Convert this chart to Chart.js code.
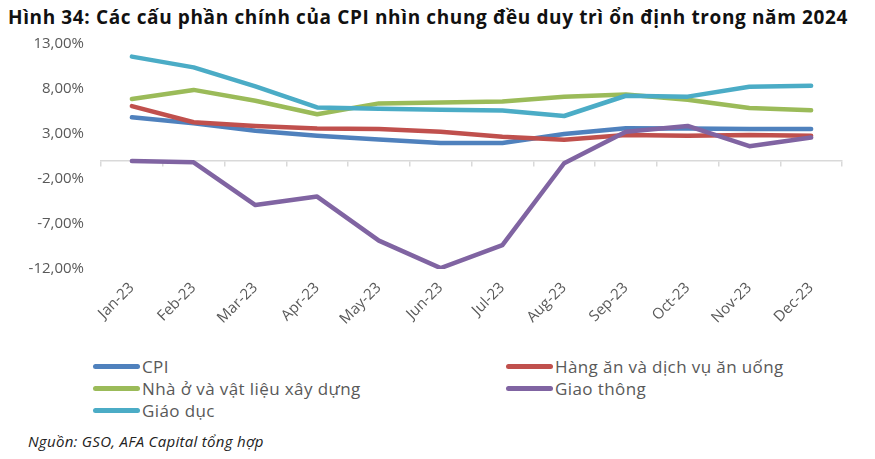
<!DOCTYPE html>
<html lang="vi">
<head>
    <meta charset="UTF-8">
    <title>CPI 2023</title>
    <script src="https://cdn.jsdelivr.net/npm/chart.js"></script>
    <style>
        * { margin: 0; padding: 0; box-sizing: border-box; }
        body { width: 875px; height: 459px; background: #fff; position: relative; overflow: hidden; font-family: 'Open Sans', sans-serif; }
        .title { position: absolute; left: 8px; top: 4px; font-family: 'Open Sans', sans-serif; font-weight: 700; font-size: 19px; color: #111; white-space: nowrap; }
        #chart { position: absolute; left: 0; top: 0; }
        .legend { position: absolute; left: 93px; top: 355px; display: grid; grid-template-columns: 413px 300px; }
        .legend div { height: 22px; display: flex; align-items: center; font-size: 17px; letter-spacing: 0.4px; color: #595959; white-space: nowrap; }
        .legend span { display: inline-block; width: 47px; height: 5px; border-radius: 3px; margin-right: 2px; }
        .source { position: absolute; left: 28px; top: 431px; font-style: italic; font-size: 15px; letter-spacing: 0.3px; color: #222; }
    </style>
</head>
<body>
    <div class="title" id="title">Hình 34: Các cấu phần chính của CPI nhìn chung đều duy trì ổn định trong năm 2024</div>
    <canvas id="chart" width="875" height="340"></canvas>
    <div class="legend" id="legend"></div>
    <div class="source">Nguồn: GSO, AFA Capital tổng hợp</div>

    <script>
        // dữ liệu
        const labels = ['Jan-23', 'Feb-23', 'Mar-23', 'Apr-23', 'May-23', 'Jun-23', 'Jul-23', 'Aug-23', 'Sep-23', 'Oct-23', 'Nov-23', 'Dec-23'];
        const cpi = [4.85, 4.2, 3.35, 2.8, 2.4, 2.0, 2.0, 3.0, 3.65, 3.6, 3.55, 3.55];
        const hangAn = [6.1, 4.3, 3.9, 3.6, 3.55, 3.25, 2.7, 2.35, 2.9, 2.8, 2.9, 2.8];
        const nhaO = [6.9, 7.9, 6.7, 5.2, 6.4, 6.5, 6.6, 7.15, 7.4, 6.8, 5.9, 5.65];
        const giaoThong = [0.0, -0.15, -4.9, -3.95, -8.85, -11.9, -9.35, -0.25, 3.25, 3.9, 1.65, 2.6];
        const giaoDuc = [11.6, 10.4, 8.3, 5.95, 5.8, 5.7, 5.6, 5.0, 7.25, 7.15, 8.25, 8.35];
        const yTicks = [-12, -7, -2, 3, 8, 13];

        const series = [
            { label: 'CPI', data: cpi, color: '#4f81bd' },
            { label: 'Hàng ăn và dịch vụ ăn uống', data: hangAn, color: '#c0504d' },
            { label: 'Nhà ở và vật liệu xây dựng', data: nhaO, color: '#9bbb59' },
            { label: 'Giao thông', data: giaoThong, color: '#8064a2' },
            { label: 'Giáo dục', data: giaoDuc, color: '#4bacc6' }
        ];

        const font = { family: "'Open Sans', sans-serif", size: 15 };

        // kéo giãn tiêu đề cho đúng bề rộng
        const titleEl = document.getElementById('title');
        const tw = titleEl.getBoundingClientRect().width;
        titleEl.style.letterSpacing = ((840 - tw) / titleEl.textContent.length) + 'px';

        const chart = new Chart(document.getElementById('chart'), {
            type: 'line',
            data: {
                labels: labels,
                datasets: series.map((s, i) => ({
                    label: s.label,
                    data: s.data,
                    borderColor: s.color,
                    backgroundColor: s.color,
                    borderWidth: 4.5,
                    borderCapStyle: 'round',
                    borderJoinStyle: 'round',
                    pointRadius: 0,
                    tension: 0,
                    order: series.length - i,
                    xAxisID: 'x'
                }))
            },
            options: {
                responsive: false,
                animation: false,
                devicePixelRatio: 1,
                layout: { padding: { top: 44, right: 33, left: 0, bottom: 0 } },
                plugins: { legend: { display: false }, tooltip: { enabled: false } },
                scales: {
                    x: {
                        type: 'category',
                        position: 'bottom',
                        offset: true,
                        grid: { display: false },
                        border: { display: false },
                        ticks: { color: '#595959', font: font, minRotation: 45, maxRotation: 45, padding: 2 },
                        afterFit: (scale) => { scale.height = 71; }
                    },
                    x2: {
                        type: 'category',
                        axis: 'x',
                        labels: labels,
                        position: { y: 0 },
                        offset: true,
                        grid: { offset: true, drawOnChartArea: false, drawTicks: true, tickLength: 5, color: '#d9d9d9', lineWidth: 1.5 },
                        border: { color: '#d9d9d9', width: 1.5 },
                        ticks: { display: false }
                    },
                    y: {
                        min: -12,
                        max: 13,
                        afterBuildTicks: (scale) => { scale.ticks = yTicks.map(v => ({ value: v })); },
                        grid: { display: false },
                        border: { display: false },
                        ticks: {
                            color: '#595959',
                            font: font,
                            padding: 9,
                            callback: (v) => v.toFixed(2).replace('.', ',') + '%'
                        },
                        afterFit: (scale) => { scale.width = 101; }
                    }
                }
            }
        });

        // chú thích hai cột
        const legendEl = document.getElementById('legend');
        chart.data.datasets.forEach((ds) => {
            const item = document.createElement('div');
            item.innerHTML = '<span style="background:' + ds.borderColor + '"></span>' + ds.label;
            legendEl.appendChild(item);
        });
    </script>
</body>
</html>
